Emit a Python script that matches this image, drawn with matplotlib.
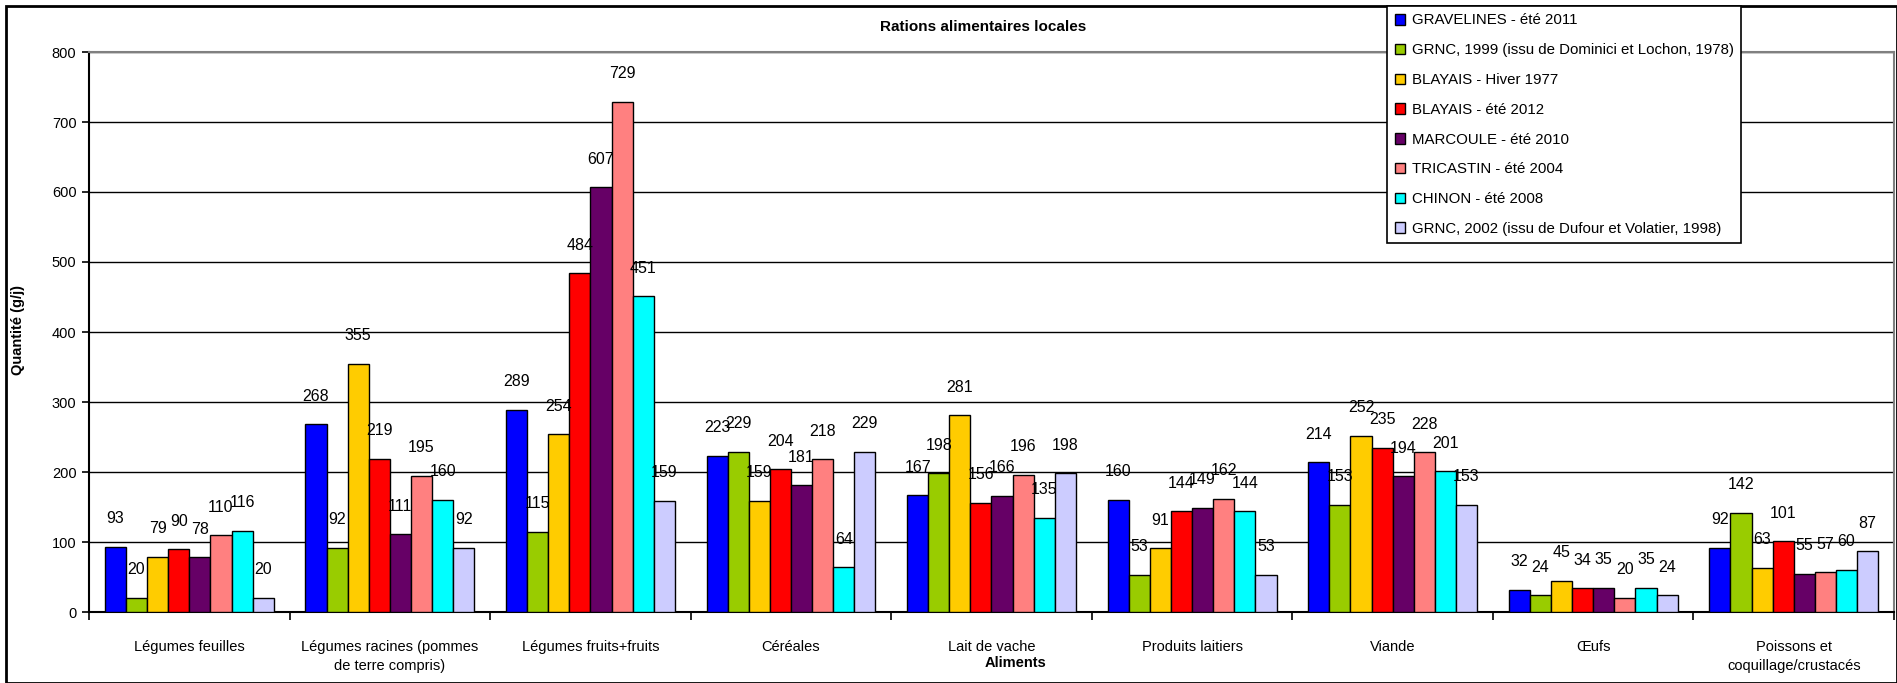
import matplotlib
matplotlib.use('Agg')
import matplotlib.pyplot as plt
import numpy as np
from matplotlib.patches import Rectangle

plt.rcParams['font.family'] = ['DejaVu Sans Condensed', 'Liberation Sans', 'DejaVu Sans']

# Categories (x axis)
categories = ['Légumes feuilles', 'Légumes racines (pommes\nde terre compris)', 'Légumes fruits+fruits',
              'Céréales', 'Lait de vache', 'Produits laitiers', 'Viande', 'Œufs',
              'Poissons et\ncoquillage/crustacés']

# Series names
series_names = ['GRAVELINES - été 2011', 'GRNC, 1999 (issu de Dominici et Lochon, 1978)',
                'BLAYAIS - Hiver 1977', 'BLAYAIS - été 2012', 'MARCOULE - été 2010',
                'TRICASTIN - été 2004', 'CHINON - été 2008',
                'GRNC, 2002 (issu de Dufour et Volatier, 1998)']

# Values (g/j)
gravelines_2011 = [93, 268, 289, 223, 167, 160, 214, 32, 92]
grnc_1999 = [20, 92, 115, 229, 198, 53, 153, 24, 142]
blayais_1977 = [79, 355, 254, 159, 281, 91, 252, 45, 63]
blayais_2012 = [90, 219, 484, 204, 156, 144, 235, 34, 101]
marcoule_2010 = [78, 111, 607, 181, 166, 149, 194, 35, 55]
tricastin_2004 = [110, 195, 729, 218, 196, 162, 228, 20, 57]
chinon_2008 = [116, 160, 451, 64, 135, 144, 201, 35, 60]
grnc_2002 = [20, 92, 159, 229, 198, 53, 153, 24, 87]

all_series = [gravelines_2011, grnc_1999, blayais_1977, blayais_2012,
              marcoule_2010, tricastin_2004, chinon_2008, grnc_2002]
colors = ['#0000FF', '#99CC00', '#FFCC00', '#FF0000', '#660066', '#FF8080', '#00FFFF', '#CCCCFF']

W, H = 1897, 683
fig = plt.figure(figsize=(W / 100, H / 100), dpi=100)
ax = fig.add_axes([89 / W, (H - 612) / H, (1894 - 89) / W, 560 / H])

x = np.arange(len(categories))
w = 1 / 9.5  # Excel gap width 150%
for j, vals in enumerate(all_series):
    pos = x + (j - 3.5) * w
    ax.bar(pos, vals, width=w, color=colors[j], edgecolor='black', linewidth=1,
           label=series_names[j], zorder=3)
    for p, v in zip(pos, vals):
        ax.text(p, v + 40, str(v), ha='center', va='center', fontsize=11.5, zorder=4)

# Axes
ax.set_xlim(-0.5, len(categories) - 0.5)
ax.set_ylim(0, 800)
ax.set_yticks(np.arange(0, 801, 100))
ax.yaxis.grid(True, color='black', linewidth=1, zorder=0)
ax.set_axisbelow(True)
ax.tick_params(axis='y', direction='out', length=5, width=1.2, labelsize=10.5, pad=4)
ax.set_xticks(x)
ax.set_xticklabels(categories, fontsize=10.5, linespacing=1.5)
ax.set_xticks(np.arange(-0.5, len(categories)), minor=True)
ax.tick_params(axis='x', which='major', length=0, pad=20)
ax.tick_params(axis='x', which='minor', direction='out', length=6, width=1.2)
ax.spines['left'].set_linewidth(1.5)
ax.spines['bottom'].set_linewidth(1.5)
ax.spines['top'].set_color('#808080')
ax.spines['right'].set_color('#808080')
ax.spines['top'].set_linewidth(1.5)
ax.spines['right'].set_linewidth(1.5)

# Titles
fig.text(983 / W, 1 - 27 / H, 'Rations alimentaires locales', ha='center', va='center',
         fontsize=11, fontweight='bold')
fig.text(18 / W, 1 - 330 / H, 'Quantité (g/j)', ha='center', va='center', rotation=90,
         fontsize=10.5, fontweight='bold')
fig.text(1016 / W, 1 - 663 / H, 'Aliments', ha='center', va='center',
         fontsize=10.5, fontweight='bold')

# Legend
leg = fig.legend(loc='upper left', bbox_to_anchor=(1387 / W, 1 - 6 / H), fontsize=10.8,
                 frameon=True, fancybox=False, edgecolor='black', framealpha=1,
                 handlelength=0.7, handleheight=0.7, handletextpad=0.45,
                 labelspacing=1.05, borderpad=0.5, borderaxespad=0)
leg.get_frame().set_linewidth(1.2)

# Outer chart border
fig.patches.append(Rectangle((6 / W, 0), 1 - 6 / W, 1 - 6 / H, transform=fig.transFigure,
                             fill=False, edgecolor='black', linewidth=2))

plt.savefig('out.png', dpi=100)
